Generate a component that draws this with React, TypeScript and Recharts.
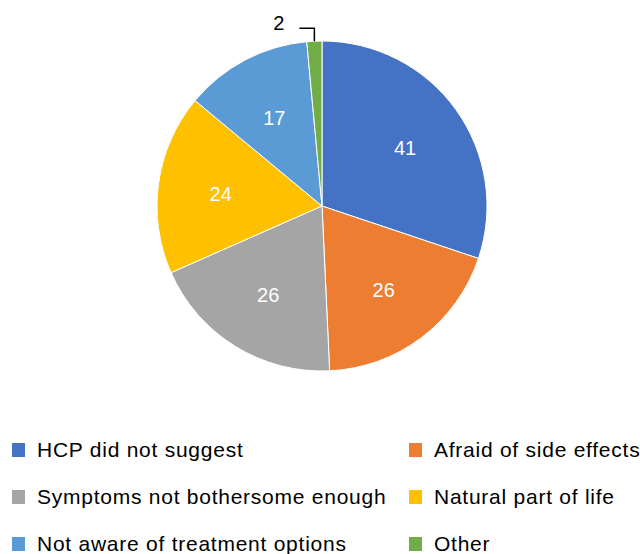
import { PieChart, Pie, Cell, Legend } from 'recharts'

const reasons = [
  'HCP did not suggest',
  'Afraid of side effects',
  'Symptoms not bothersome enough',
  'Natural part of life',
  'Not aware of treatment options',
  'Other',
]
const counts = [41, 26, 26, 24, 17, 2]
const sliceColors = ['#4472C4', '#ED7D31', '#A5A5A5', '#FFC000', '#5B9BD5', '#70AD47']

const data = reasons.map((name, i) => ({ name, value: counts[i] }))

const RAD = Math.PI / 180
const FONT = '"Liberation Sans", Arial, sans-serif'

const renderLabel = ({ cx, cy, midAngle, outerRadius, value }: any) => {
  if (value < 5) {
    // small slice: label outside with an elbow leader line
    const ex = cx + outerRadius * Math.cos(-midAngle * RAD)
    const ey = cy + outerRadius * Math.sin(-midAngle * RAD)
    const ky = ey - 13
    const kx = ex - 15
    return (
      <g>
        <polyline points={`${ex},${ey} ${ex},${ky} ${kx},${ky}`} fill="none" stroke="#000" strokeWidth={1.5} />
        <text x={kx - 15} y={ky - 5} textAnchor="end" dominantBaseline="central" fill="#000" fontSize={20} fontFamily={FONT}>
          {value}
        </text>
      </g>
    )
  }
  const r = outerRadius * 0.62
  const x = cx + r * Math.cos(-midAngle * RAD)
  const y = cy + r * Math.sin(-midAngle * RAD) + 2
  return (
    <text x={x} y={y} textAnchor="middle" dominantBaseline="central" fill="#fff" fontSize={20} fontFamily={FONT}>
      {value}
    </text>
  )
}

const renderLegend = ({ payload }: any) => {
  // keep the data order (row by row, two columns)
  const items = [...(payload || [])].sort((a: any, b: any) => reasons.indexOf(a.value) - reasons.indexOf(b.value))
  return (
    <div style={{ display: 'grid', gridTemplateColumns: '397px 219px', paddingLeft: 12 }}>
      {items.map((entry: any, i: number) => (
        <div key={`leg-${i}`} style={{ display: 'flex', alignItems: 'center', height: 47, whiteSpace: 'nowrap' }}>
          <span style={{ display: 'inline-block', flex: 'none', width: 13, height: 14, background: entry.color, marginRight: 12 }} />
          <span style={{ fontFamily: FONT, fontSize: 21, letterSpacing: 0.75, color: '#000' }}>{entry.value}</span>
        </div>
      ))}
    </div>
  )
}

export default function App() {
  return (
    <div style={{ position: 'absolute', left: 0, top: 0, width: 640, height: 554, background: '#fff', overflow: 'hidden' }}>
      <PieChart width={640} height={554} margin={{ top: 0, right: 0, bottom: 0, left: 0 }}>
        <Pie
          data={data}
          dataKey="value"
          nameKey="name"
          cx={322}
          cy={206}
          outerRadius={165}
          startAngle={90}
          endAngle={-270}
          stroke="#fff"
          strokeWidth={1}
          label={renderLabel}
          labelLine={false}
          isAnimationActive={false}
        >
          {data.map((d, i) => (
            <Cell key={`cell-${i}`} fill={sliceColors[i]} />
          ))}
        </Pie>
        <Legend content={renderLegend} wrapperStyle={{ left: 0, top: 426, width: 640 }} />
      </PieChart>
    </div>
  )
}
